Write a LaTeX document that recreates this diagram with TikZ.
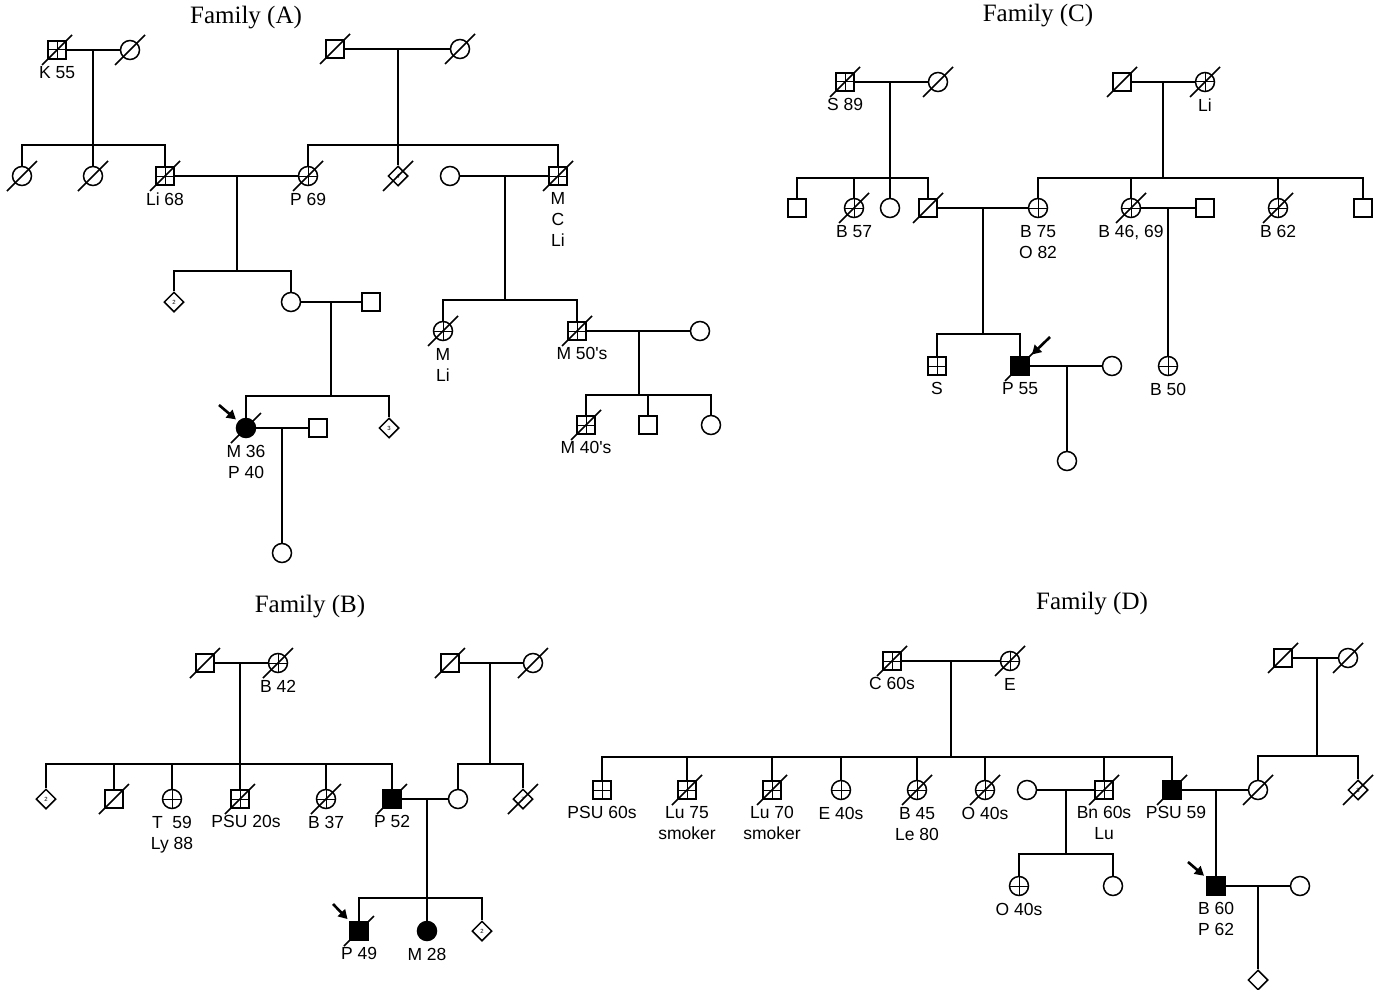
\documentclass[tikz,border=0pt]{standalone}
\usepackage{fontspec}
\setmainfont{Liberation Sans}
\newfontfamily\titlefont{Liberation Serif}
\usepackage{tikz}
\usetikzlibrary{arrows.meta,shapes.geometric}
\tikzset{male/.style={draw, rectangle, minimum size=18pt, inner sep=0pt, fill=white}, female/.style={draw, circle, minimum size=19pt, inner sep=0pt, fill=white}, unknown/.style={draw, diamond, aspect=1, minimum size=20pt, inner sep=0pt, fill=white, font=\fontsize{6}{6}\selectfont}, cancer/.style={path picture={\draw[line width=1pt] (path picture bounding box.north) -- (path picture bounding box.south) (path picture bounding box.west) -- (path picture bounding box.east);}}, affected/.style={fill=black}, lab/.style={font=\fontsize{17.5}{21}\selectfont, align=center, inner sep=0pt}, family/.style={font=\titlefont\fontsize{25}{28}\selectfont}, slash/.style={line width=1.5pt}, proband/.style={-{Triangle[length=9pt,width=10pt]}, line width=2.6pt, shorten >=3pt}}
\newcommand{\dead}[1]{\draw[slash] ([shift={(-15,15)}]#1.center) -- ([shift={(15,-15)}]#1.center);}

\begin{document}
\begin{tikzpicture}[x=1pt, y=-1pt, line width=1.5pt, every label/.style={lab}, label distance=6pt]
\useasboundingbox (0,0) rectangle (1382,990);

% Family (A)
\node[family] (tA) at (246,18) {Family (A)};
\node[male,cancer,label={below:{K 55}}] (a1) at (57,50) {};
\node[female] (a2) at (130,50) {};
\node[female] (a3) at (22,176) {};
\node[female] (a4) at (93,176) {};
\node[male,cancer,label={below:{Li 68}}] (a5) at (165,176) {};
\node[male] (a6) at (335,49) {};
\node[female] (a7) at (460,49) {};
\node[female,cancer,label={below:{P 69}}] (a8) at (308,176) {};
\node[unknown] (a9) at (398,176) {4};
\node[female] (a10) at (450,176) {};
\node[male,cancer,label={below:{M\\C\\Li}}] (a11) at (558,176) {};
\node[unknown] (a12) at (174,302) {2};
\node[female] (a13) at (291,302) {};
\node[male] (a14) at (371,302) {};
\node[female,affected,label={below:{M 36\\P 40}}] (a15) at (246,428) {};
\node[unknown] (a16) at (389,428) {3};
\node[male] (a17) at (318,428) {};
\node[female] (a18) at (282,553) {};
\node[female,cancer,label={below:{M\\Li}}] (a19) at (443,331) {};
\node[male,cancer,label={[xshift=5pt]below:{M 50\textquotesingle s}}] (a20) at (577,331) {};
\node[female] (a21) at (700,331) {};
\node[male,cancer,label={below:{M 40\textquotesingle s}}] (a22) at (586,425) {};
\node[male] (a23) at (648,425) {};
\node[female] (a24) at (711,425) {};
\coordinate (mA1) at (93,50); \coordinate (sA1) at (93,145);
\coordinate (mA2) at (398,49); \coordinate (sA2) at (398,145);
\coordinate (mA3) at (237,176); \coordinate (sA3) at (237,271);
\coordinate (mA4) at (331,302); \coordinate (sA4) at (331,396);
\coordinate (mA5) at (282,428);
\coordinate (mA6) at (505,176); \coordinate (sA6) at (505,300);
\coordinate (mA7) at (639,331); \coordinate (sA7) at (639,395);
\coordinate (pA) at (219,405);
\draw (a1) -- (a2); \draw (mA1) -- (sA1); \draw (a3) |- (sA1) -| (a5); \draw (sA1) -- (a4);
\draw (a6) -- (a7); \draw (mA2) -- (sA2); \draw (a8) |- (sA2) -| (a11); \draw (sA2) -- (a9);
\draw (a5) -- (a8); \draw (mA3) -- (sA3); \draw (a12) |- (sA3) -| (a13);
\draw (a13) -- (a14); \draw (mA4) -- (sA4); \draw (a15) |- (sA4) -| (a16);
\draw (a15) -- (a17); \draw (mA5) -- (a18);
\draw (a10) -- (a11); \draw (mA6) -- (sA6); \draw (a19) |- (sA6) -| (a20);
\draw (a20) -- (a21); \draw (mA7) -- (sA7); \draw (a22) |- (sA7) -| (a24); \draw (a23) |- (sA7);

% Family (C)
\node[family] (tC) at (1038,16) {Family (C)};
\node[male,cancer,label={below:{S 89}}] (c1) at (845,82) {};
\node[female] (c2) at (938,82) {};
\node[male] (c3) at (797,208) {};
\node[female,cancer,label={below:{B 57}}] (c4) at (854,208) {};
\node[female] (c5) at (890,208) {};
\node[male] (c6) at (928,208) {};
\node[male] (c7) at (1122,82) {};
\node[female,cancer,label={below:{Li}}] (c8) at (1205,82) {};
\node[female,cancer,label={below:{B 75\\O 82}}] (c9) at (1038,208) {};
\node[female,cancer,label={below:{B 46, 69}}] (c10) at (1131,208) {};
\node[male] (c11) at (1205,208) {};
\node[female,cancer,label={below:{B 62}}] (c12) at (1278,208) {};
\node[male] (c13) at (1363,208) {};
\node[male,cancer,label={below:{S}}] (c14) at (937,366) {};
\node[male,affected,label={below:{P 55}}] (c15) at (1020,366) {};
\node[female] (c16) at (1112,366) {};
\node[female] (c17) at (1067,461) {};
\node[female,cancer,label={below:{B 50}}] (c18) at (1168,366) {};
\coordinate (mC1) at (890,82); \coordinate (sC1) at (890,178);
\coordinate (mC2) at (1163,82); \coordinate (sC2) at (1163,178);
\coordinate (mC3) at (983,208); \coordinate (sC3) at (983,334);
\coordinate (mC4) at (1067,366);
\coordinate (mC5) at (1168,208);
\coordinate (pC) at (1050,337);
\draw (c1) -- (c2); \draw (mC1) -- (sC1); \draw (c3) |- (sC1) -| (c6); \draw (c4) |- (sC1); \draw (sC1) -- (c5);
\draw (c7) -- (c8); \draw (mC2) -- (sC2); \draw (c9) |- (sC2) -| (c13); \draw (c10) |- (sC2); \draw (c12) |- (sC2);
\draw (c6) -- (c9); \draw (mC3) -- (sC3); \draw (c14) |- (sC3) -| (c15);
\draw (c15) -- (c16); \draw (mC4) -- (c17);
\draw (c10) -- (c11); \draw (mC5) -- (c18);

% Family (B)
\node[family] (tB) at (310,607) {Family (B)};
\node[male] (b1) at (205,663) {};
\node[female,cancer,label={below:{B 42}}] (b2) at (278,663) {};
\node[unknown] (b3) at (46,799) {2};
\node[male] (b4) at (114,799) {};
\node[female,cancer,label={below:{T\ \ 59\\Ly 88}}] (b5) at (172,799) {};
\node[male,cancer,label={[xshift=6pt]below:{PSU 20s}}] (b6) at (240,799) {};
\node[female,cancer,label={below:{B 37}}] (b7) at (326,799) {};
\node[male,affected,label={below:{P 52}}] (b8) at (392,799) {};
\node[male] (b9) at (450,663) {};
\node[female] (b10) at (533,663) {};
\node[female] (b11) at (458,799) {};
\node[unknown] (b12) at (523,799) {7};
\node[male,affected,label={below:{P 49}}] (b13) at (359,931) {};
\node[female,affected,label={below:{M 28}}] (b14) at (427,931) {};
\node[unknown] (b15) at (482,931) {2};
\coordinate (mB1) at (240,663); \coordinate (sB1) at (240,764);
\coordinate (mB2) at (490,663); \coordinate (sB2) at (490,764);
\coordinate (mB3) at (427,799); \coordinate (sB3) at (427,898);
\coordinate (pB) at (333,904);
\draw (b1) -- (b2); \draw (mB1) -- (sB1); \draw (b3) |- (sB1) -| (b8); \draw (b4) |- (sB1); \draw (b5) |- (sB1); \draw (sB1) -- (b6); \draw (b7) |- (sB1);
\draw (b9) -- (b10); \draw (mB2) -- (sB2); \draw (b11) |- (sB2) -| (b12);
\draw (b8) -- (b11); \draw (mB3) -- (sB3); \draw (b13) |- (sB3) -| (b15); \draw (sB3) -- (b14);

% Family (D)
\node[family] (tD) at (1092,604) {Family (D)};
\node[male,cancer,label={below:{C 60s}}] (d1) at (892,661) {};
\node[female,cancer,label={below:{E}}] (d2) at (1010,661) {};
\node[male,cancer,label={below:{PSU 60s}}] (d3) at (602,790) {};
\node[male,cancer,label={below:{Lu 75\\smoker}}] (d4) at (687,790) {};
\node[male,cancer,label={below:{Lu 70\\smoker}}] (d5) at (772,790) {};
\node[female,cancer,label={below:{E 40s}}] (d6) at (841,790) {};
\node[female,cancer,label={below:{B 45\\Le 80}}] (d7) at (917,790) {};
\node[female,cancer,label={below:{O 40s}}] (d8) at (985,790) {};
\node[female] (d9) at (1027,790) {};
\node[male,cancer,label={below:{Bn 60s\\Lu}}] (d10) at (1104,790) {};
\node[male,affected,label={[xshift=4pt]below:{PSU 59}}] (d11) at (1172,790) {};
\node[female,cancer,label={below:{O 40s}}] (d12) at (1019,886) {};
\node[female] (d13) at (1113,886) {};
\node[male] (d14) at (1283,658) {};
\node[female] (d15) at (1348,658) {};
\node[female] (d16) at (1258,790) {};
\node[unknown] (d17) at (1358,790) {3};
\node[male,affected,label={below:{B 60\\P 62}}] (d18) at (1216,886) {};
\node[female] (d19) at (1300,886) {};
\node[unknown] (d20) at (1258,980) {};
\coordinate (mD1) at (951,661); \coordinate (sD1) at (951,757);
\coordinate (mD2) at (1066,790); \coordinate (sD2) at (1066,854);
\coordinate (mD3) at (1317,658); \coordinate (sD3) at (1317,756);
\coordinate (mD4) at (1216,790);
\coordinate (mD5) at (1258,886);
\coordinate (pD) at (1188,862);
\draw (d1) -- (d2); \draw (mD1) -- (sD1); \draw (d3) |- (sD1) -| (d11);
\draw (d4) |- (sD1); \draw (d5) |- (sD1); \draw (d6) |- (sD1); \draw (d7) |- (sD1); \draw (d8) |- (sD1); \draw (d10) |- (sD1);
\draw (d9) -- (d10); \draw (mD2) -- (sD2); \draw (d12) |- (sD2) -| (d13);
\draw (d14) -- (d15); \draw (mD3) -- (sD3); \draw (d16) |- (sD3) -| (d17);
\draw (d11) -- (d16); \draw (mD4) -- (d18);
\draw (d18) -- (d19); \draw (mD5) -- (d20);

% deceased and probands
\foreach \n in {a1,a2,a3,a4,a5,a6,a7,a8,a9,a11,a15,a19,a20,a22,c1,c2,c4,c6,c7,c8,c10,c12,c15,b1,b2,b4,b6,b7,b8,b9,b10,b12,b13,d1,d2,d4,d5,d7,d8,d10,d11,d14,d15,d16,d17} {\dead{\n}}
\draw[proband] (pA) -- (a15);
\draw[proband] (pC) -- (c15);
\draw[proband] (pB) -- (b13);
\draw[proband] (pD) -- (d18);
\end{tikzpicture}
\end{document}
